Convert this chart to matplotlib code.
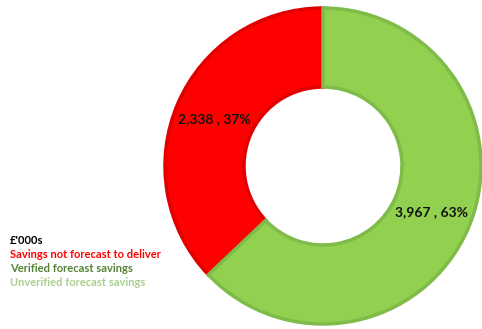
import matplotlib
matplotlib.use("Agg")
import matplotlib.pyplot as plt

# £'000s
categories = ["Savings not forecast to deliver", "Verified forecast savings", "Unverified forecast savings"]
values = [2338, 0, 3967]
fills = ["#ff0000", "#548235", "#92d050"]
edges = ["#e00000", "#4a7530", "#7fbb48"]
text_colors = ["#ff0000", "#548235", "#a9d08e"]
unit_label = "£'000s"

plt.rcParams['font.family'] = ['Lato', 'DejaVu Sans']

fig = plt.figure(figsize=(4.82, 3.29), dpi=100)
ax = fig.add_axes([0, 0, 1, 1])

# only non-zero slices are drawn
keep = [i for i, v in enumerate(values) if v > 0]
vals = [values[i] for i in keep]
total = sum(vals)

def fmt(pct):
    v = int(round(pct * total / 100.0))
    return "{:,} , {:.0f}%".format(v, pct)

wedges, texts, autotexts = ax.pie(
    vals,
    colors=[fills[i] for i in keep],
    startangle=90,
    counterclock=True,
    center=(323, 163),
    radius=158,
    autopct=fmt,
    pctdistance=0.745,
    wedgeprops=dict(width=158 * 0.5, linewidth=2.5),
    frame=True,
)
for w, i in zip(wedges, keep):
    w.set_edgecolor(edges[i])
for t in autotexts:
    t.set_fontsize(10)
    t.set_fontweight("bold")
    t.set_color("#111111")

ax.set_xlim(0, 482)
ax.set_ylim(0, 329)
ax.set_aspect("equal")
ax.axis("off")

# text legend bottom-left
fig.text(10 / 482, 1 - 241 / 329, unit_label, color="black", fontsize=8,
         fontweight="bold", va="center", ha="left")
ys = [255, 269, 283]
for name, c, y in zip(categories, text_colors, ys):
    fig.text(10 / 482, 1 - y / 329, name, color=c, fontsize=8,
             fontweight="bold", va="center", ha="left")

plt.savefig("out.png", dpi=100)
